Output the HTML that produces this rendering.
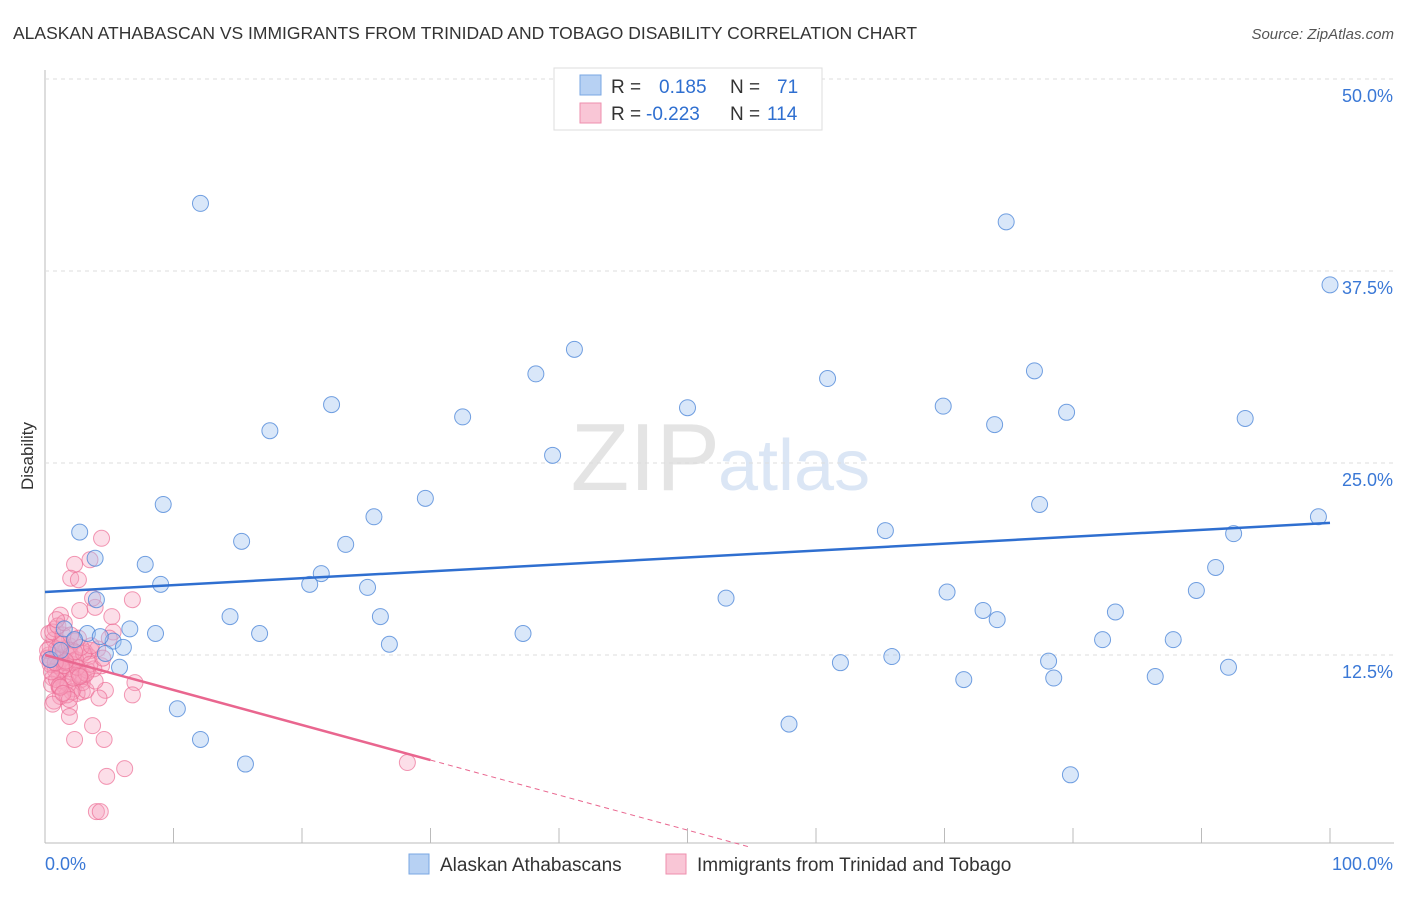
<!DOCTYPE html>
<html><head><meta charset="utf-8"><style>
body{margin:0;background:#fff;font-family:"Liberation Sans",sans-serif;}
svg text{font-family:"Liberation Sans",sans-serif;}
</style></head><body>
<svg id="chart" width="1406" height="892" viewBox="0 0 1406 892" xmlns="http://www.w3.org/2000/svg">
<text x="13" y="39" font-size="17.5" fill="#333">ALASKAN ATHABASCAN VS IMMIGRANTS FROM TRINIDAD AND TOBAGO DISABILITY CORRELATION CHART</text>
<text x="1394" y="39" font-size="15" fill="#555" text-anchor="end" font-style="italic">Source: ZipAtlas.com</text>
<text x="720" y="490" font-size="96" fill="#e4e4e4" text-anchor="end" font-family="Liberation Serif">ZIP</text>
<text x="718" y="490" font-size="72" fill="#dbe6f5">atlas</text>
<text transform="translate(33,456) rotate(-90)" font-size="17" fill="#333" text-anchor="middle">Disability</text>
<g id="grid"></g><g id="pink"></g><g id="blue"></g><g id="trends"></g>
<rect x="554" y="68" width="268" height="62" fill="#fff" stroke="#ddd"/>
<rect x="580" y="75" width="21" height="20" fill="#b7d1f3" stroke="#7aa7e3"/>
<rect x="580" y="103" width="21" height="20" fill="#f9c6d6" stroke="#ee8fae"/>
<text x="611" y="93" font-size="19" fill="#333">R =   <tspan fill="#2f6fd0" x="659">0.185</tspan><tspan x="730" fill="#333">N =</tspan><tspan x="777" fill="#2f6fd0">71</tspan></text>
<text x="611" y="120" font-size="19" fill="#333">R = <tspan fill="#2f6fd0" x="646">-0.223</tspan><tspan x="730" fill="#333">N =</tspan><tspan x="767" fill="#2f6fd0">114</tspan></text>
<rect x="409" y="854" width="20" height="20" fill="#b7d1f3" stroke="#7aa7e3"/>
<text x="440" y="871" font-size="19" fill="#333">Alaskan Athabascans</text>
<rect x="666" y="854" width="20" height="20" fill="#f9c6d6" stroke="#ee8fae"/>
<text x="697" y="871" font-size="19" fill="#333">Immigrants from Trinidad and Tobago</text>
</svg>
<script>
const blueX=[12.1,74.8,100,41.2,38.2,60.9,77.0,22.3,32.5,50.0,69.9,79.5,73.9,93.4,17.5,39.5,29.6,9.2,2.7,25.6,65.4,77.4,99.1,92.5,15.3,23.4,3.9,7.8,21.5,91.1,9.0,20.6,25.1,4.0,53.0,70.2,89.6,14.4,26.1,73.0,83.3,6.6,8.6,16.7,37.2,1.5,3.3,5.3,82.3,87.8,4.7,6.1,26.8,74.1,65.9,61.9,78.1,92.1,5.8,71.5,78.5,86.4,10.3,57.9,12.1,15.6,79.8,2.3,4.3,0.4,1.2];
const blueY=[41.9,40.7,36.6,32.4,30.8,30.5,31.0,28.8,28.0,28.6,28.7,28.3,27.5,27.9,27.1,25.5,22.7,22.3,20.5,21.5,20.6,22.3,21.5,20.4,19.9,19.7,18.8,18.4,17.8,18.2,17.1,17.1,16.9,16.1,16.2,16.6,16.7,15.0,15.0,15.4,15.3,14.2,13.9,13.9,13.9,14.2,13.9,13.4,13.5,13.5,12.6,13.0,13.2,14.8,12.4,12.0,12.1,11.7,11.7,10.9,11.0,11.1,9.0,8.0,7.0,5.4,4.7,13.5,13.7,12.2,12.8];
const pinkX=[4.4,2.3,2.0,3.5,6.8,4.0,4.3,4.8,6.2,4.6,2.3,28.2,7.0,6.8,5.2,3.9,2.7,1.9,1.9,3.7,1.2,5.3,3.7,2.6,3.6,4.4,4.7,2.9,
0.3,0.5,0.8,1.0,1.3,1.6,0.4,0.7,0.9,1.1,1.4,1.8,2.1,0.2,0.6,1.2,1.5,2.0,2.4,2.8,0.3,0.8,1.0,1.7,2.2,2.6,3.1,0.5,0.9,1.3,1.9,2.5,3.0,3.4,0.4,1.1,1.6,2.3,2.9,3.3,0.6,1.4,2.0,2.7,0.2,0.9,1.5,2.4,3.2,3.8,1.2,1.8,2.6,4.1,0.7,1.0,2.1,3.0,1.3,1.7,0.5,2.2,2.8,3.5,4.5,0.8,1.5,2.5,3.9,1.1,0.4,1.9,2.3,5.0,0.6,1.2,2.0,3.2,4.2,1.6,2.7,0.9,1.4,3.6];
const pinkY=[20.1,18.4,17.5,18.7,16.1,2.3,2.3,4.6,5.1,7.0,7.0,5.5,10.7,9.9,15.0,15.6,15.4,9.1,8.5,7.9,15.1,14.0,16.2,17.4,12.8,11.8,10.2,10.1,
12.5,12.0,11.5,12.8,12.2,11.7,13.0,13.5,12.4,11.2,10.8,12.6,11.9,12.3,11.0,13.3,10.5,11.4,12.1,10.9,13.9,14.2,11.8,12.9,10.3,11.3,12.7,10.6,12.9,11.6,13.1,10.0,11.1,12.4,11.9,10.4,12.0,13.4,10.7,11.5,14.0,13.8,12.5,11.2,12.8,10.9,11.8,12.2,10.2,11.6,9.8,10.6,13.6,12.9,9.5,14.4,10.1,12.6,13.2,9.9,11.4,11.0,13.0,11.9,12.3,12.0,14.6,11.7,10.8,10.5,12.2,9.6,12.7,13.6,9.3,10.4,13.8,11.3,9.7,12.1,11.1,14.8,10.0,13.1];
const blueTrend=[16.6,21.1];   // y at x=0, x=100
const pinkTrend=[12.5,5.66,30]; // y at x=0, y at end of solid, solid end x
const yTicks=[12.5,25.0,37.5,50.0];
const yTickLabels=["12.5%","25.0%","37.5%","50.0%"];
const xTicks=[0,10,20,30,40,50,60,70,80,90,100];
const xs=v=>45+v*12.85, ys=v=>847-v*15.36;
const NS="http://www.w3.org/2000/svg";
function mk(parent,tag,attrs){const e=document.createElementNS(NS,tag);for(const k in attrs)e.setAttribute(k,attrs[k]);document.getElementById(parent).appendChild(e);return e;}
mk('grid','line',{x1:45,y1:70,x2:45,y2:843,stroke:'#bbb'});
mk('grid','line',{x1:45,y1:843,x2:1394,y2:843,stroke:'#bbb'});
yTicks.forEach((t,i)=>{
 const l=mk('grid','line',{x1:45,y1:ys(t),x2:1394,y2:ys(t),stroke:'#ddd','stroke-dasharray':'4,4'});
 
 
 const tx=mk('grid','text',{x:1393,y:ys(t)+23,'font-size':18,fill:'#3a78d6','text-anchor':'end'});
 tx.textContent=yTickLabels[i];
 
 
});
xTicks.forEach(t=>{
 const l=mk('grid','line',{x1:xs(t),y1:828,x2:xs(t),y2:843,stroke:'#bbb'});
 
 
});
let a=mk('grid','text',{x:45,y:870,'font-size':18,fill:'#3a78d6'});a.textContent='0.0%';


a=mk('grid','text',{x:1393,y:870,'font-size':18,fill:'#3a78d6','text-anchor':'end'});a.textContent='100.0%';


pinkX.forEach((x,i)=>{
 const c=mk('pink','circle',{cx:xs(x),cy:ys(pinkY[i]),r:8,fill:'rgba(246,160,188,0.35)',stroke:'rgba(236,110,150,0.7)','stroke-width':1});
 
 
});
blueX.forEach((x,i)=>{
 const c=mk('blue','circle',{cx:xs(x),cy:ys(blueY[i]),r:8,fill:'rgba(160,195,240,0.4)',stroke:'rgba(70,130,215,0.75)','stroke-width':1});
 
 
});
let t=mk('trends','line',{x1:xs(0),y1:ys(blueTrend[0]),x2:xs(100),y2:ys(blueTrend[1]),stroke:'#2f6fd0','stroke-width':2.5});


t=mk('trends','line',{x1:xs(0),y1:ys(pinkTrend[0]),x2:xs(pinkTrend[2]),y2:ys(pinkTrend[1]),stroke:'#e9668f','stroke-width':2.5});


const slope=(pinkTrend[1]-pinkTrend[0])/pinkTrend[2];
const xe=-pinkTrend[0]/slope;
t=mk('trends','line',{x1:xs(pinkTrend[2]),y1:ys(pinkTrend[1]),x2:xs(xe),y2:ys(0),stroke:'#e9668f','stroke-width':1,'stroke-dasharray':'5,4'});


</script>
</body></html>
